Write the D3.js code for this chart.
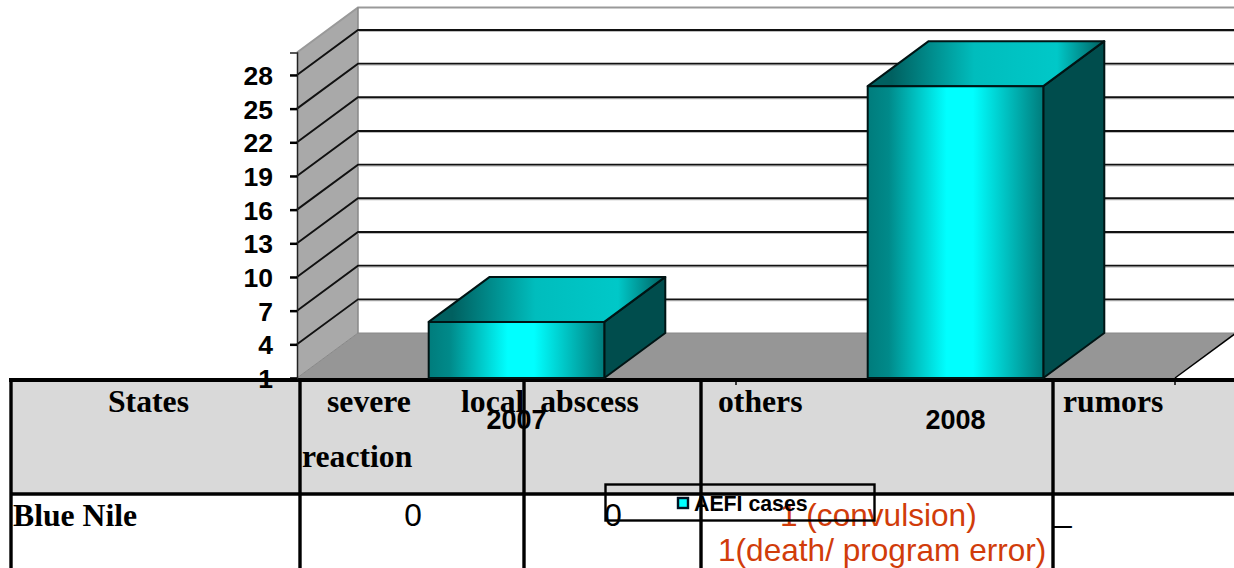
<!DOCTYPE html>
<html>
<head>
<meta charset="utf-8">
<script src="https://d3js.org/d3.v7.min.js"></script>
<style>
  body { margin: 0; background: #fff; overflow: hidden; }
  svg { display: block; }
  .serif { font-family: "Liberation Serif"; font-weight: bold; font-size: 31.7px; fill: #000; }
  .sans { font-family: "Liberation Sans"; font-size: 31.6px; }
  .bold { font-family: "Liberation Sans"; font-weight: bold; }
</style>
</head>
<body>
<svg id="chart" width="1234" height="568"></svg>
<script>
// chart data
var years = ["2007", "2008"];
var cases = [6, 27];
var yTicks = [1, 4, 7, 10, 13, 16, 19, 22, 25, 28];
var seriesName = "AEFI cases";

// the table that sits behind the chart
var headerCells = ["States", "severe", "local  abscess", "others", "rumors"];
var headerCells2 = ["reaction"];
var rowName = "Blue Nile";
var rowValues = ["0", "0"];
var rowNotes = ["1 (convulsion)", "1(death/ program error)"];
var rowDash = "_";

var width = 1234, height = 568;
var svg = d3.select("#chart");

// plot box, front edge. back wall is shifted by dx,dy
var left = 297, right = 1175, bottom = 378;
var dx = 61, dy = -45;

var x = d3.scaleBand().domain(years).range([left, right]).paddingInner(0.6).paddingOuter(0.3);
var y = d3.scaleLinear().domain([1, 30]).range([bottom, 52.5]);

// gradients
var defs = svg.append("defs");
var g1 = defs.append("linearGradient").attr("id", "front");
g1.append("stop").attr("offset", "0%").attr("stop-color", "#007c7c");
g1.append("stop").attr("offset", "12%").attr("stop-color", "#008a8a");
g1.append("stop").attr("offset", "45%").attr("stop-color", "#00ffff");
g1.append("stop").attr("offset", "60%").attr("stop-color", "#00ffff");
g1.append("stop").attr("offset", "100%").attr("stop-color", "#007c7c");
var g2 = defs.append("linearGradient").attr("id", "top")
  .attr("x1", "0%").attr("y1", "0%").attr("x2", "100%").attr("y2", "0%");
g2.append("stop").attr("offset", "10%").attr("stop-color", "#006060");
g2.append("stop").attr("offset", "45%").attr("stop-color", "#00bdbd");
g2.append("stop").attr("offset", "80%").attr("stop-color", "#00c8c8");
g2.append("stop").attr("offset", "100%").attr("stop-color", "#005f5f");

// table ------------------------------------------------------------
var colX = [11, 300, 524, 701, 1053];
var rowTop = 380, rowMid = 494;

var table = svg.append("g");
table.append("rect").attr("x", colX[0]).attr("y", rowTop).attr("width", width - colX[0]).attr("height", rowMid - rowTop).attr("fill", "#d9d9d9");
table.append("line").attr("x1", colX[0] - 2).attr("x2", width).attr("y1", rowTop).attr("y2", rowTop).attr("stroke", "#000").attr("stroke-width", 4);
table.append("line").attr("x1", colX[0]).attr("x2", width).attr("y1", rowMid).attr("y2", rowMid).attr("stroke", "#000").attr("stroke-width", 3.4);
table.selectAll("line.col").data(colX).join("line").attr("class", "col")
  .attr("x1", d => d).attr("x2", d => d).attr("y1", rowTop).attr("y2", height)
  .attr("stroke", "#000").attr("stroke-width", 3.4);

var headX = [108, 327, 461, 718, 1063];
table.selectAll("text.head").data(headerCells).join("text").attr("class", "head serif")
  .attr("x", (d, i) => headX[i]).attr("y", 412).style("white-space", "pre").text(d => d);
table.append("text").attr("class", "serif").attr("x", 302).attr("y", 467).text(headerCells2[0]);
table.append("text").attr("class", "serif").attr("x", 13).attr("y", 526).text(rowName);

var valX = [413, 613];
table.selectAll("text.val").data(rowValues).join("text").attr("class", "val sans")
  .attr("x", (d, i) => valX[i]).attr("y", 526).attr("text-anchor", "middle").attr("fill", "#000").text(d => d);
var noteX = [780, 718], noteY = [526, 561];
table.selectAll("text.note").data(rowNotes).join("text").attr("class", "note sans")
  .attr("x", (d, i) => noteX[i]).attr("y", (d, i) => noteY[i]).attr("fill", "#d13c0a").text(d => d);
table.append("text").attr("class", "sans").attr("x", 1054).attr("y", 522).attr("fill", "#000").text(rowDash);

// walls and floor ---------------------------------------------------
var wallPoly = [[left, bottom], [left, y(30)], [left + dx, y(30) + dy], [left + dx, bottom + dy]];
var floorPoly = [[left, bottom], [right, bottom], [right + dx, bottom + dy], [left + dx, bottom + dy]];
var line = d3.line();

svg.append("path").attr("d", line(wallPoly) + "Z").attr("fill", "#a9a9a9");
svg.append("path").attr("d", line(floorPoly) + "Z").attr("fill", "#969696");

// back wall border, greyish
svg.append("path")
  .attr("d", line([[left, y(30)], [left + dx, y(30) + dy], [right + dx, y(30) + dy]]))
  .attr("fill", "none").attr("stroke", "#999").attr("stroke-width", 2);
svg.append("line").attr("x1", left + dx).attr("x2", left + dx).attr("y1", y(30) + dy).attr("y2", bottom + dy).attr("stroke", "#888").attr("stroke-width", 1.5);
svg.append("line").attr("x1", left).attr("y1", bottom).attr("x2", left + dx).attr("y2", bottom + dy).attr("stroke", "#888");
svg.append("line").attr("x1", left + dx).attr("x2", right + dx).attr("y1", bottom + dy).attr("y2", bottom + dy).attr("stroke", "#888");
svg.append("line").attr("x1", right).attr("y1", bottom).attr("x2", right + dx).attr("y2", bottom + dy).attr("stroke", "#000").attr("stroke-width", 1.5);

// gridlines: shadow first and then black line
var gridTicks = yTicks.slice(1);
svg.append("g").selectAll("path").data(gridTicks).join("path")
  .attr("d", d => line([[left + dx, y(d) + dy + 1.5], [right + dx, y(d) + dy + 1.5]]))
  .attr("fill", "none").attr("stroke", "#bbb").attr("stroke-width", 1);
svg.append("g").selectAll("path").data(gridTicks).join("path")
  .attr("d", d => line([[left, y(d)], [left + dx, y(d) + dy], [right + dx, y(d) + dy]]))
  .attr("fill", "none").attr("stroke", "#111").attr("stroke-width", 1.9);

// axes
var yAxis = d3.axisLeft(y).tickValues(yTicks).tickSize(7).tickPadding(17);
var yG = svg.append("g").attr("transform", "translate(" + left + ",0)").call(yAxis);
yG.select(".domain").attr("stroke", "#222").attr("stroke-width", 1.5);
yG.selectAll(".tick line").attr("stroke", "#000").attr("stroke-width", 2.5);
yG.selectAll("text").attr("class", "bold").style("font-size", "26.5px").attr("fill", "#000").attr("dy", "0.36em");

var xAxis = d3.axisBottom(x).tickSize(0).tickPadding(0);
var xG = svg.append("g").attr("transform", "translate(0," + bottom + ")").call(xAxis);
xG.select(".domain").remove();
xG.selectAll("text").attr("class", "bold").style("font-size", "27px").attr("fill", "#000").attr("dy", "51").attr("y", 0);

// category boundary ticks under the floor
svg.append("g").selectAll("line").data(d3.range(1, years.length + 1)).join("line")
  .attr("x1", d => left + d * x.step()).attr("x2", d => left + d * x.step())
  .attr("y1", bottom).attr("y2", bottom + 7)
  .attr("stroke", "#000").attr("stroke-width", 1.5);

// bars
var bars = svg.append("g").selectAll("g").data(years).join("g");
var bw = x.bandwidth();
function outline(sel) {
  return sel.attr("stroke", "#001414").attr("stroke-width", 2).attr("stroke-linejoin", "round");
}
bars.append("path").call(outline).attr("fill", "#004d4d")
  .attr("d", (d, i) => line([[x(d) + bw, bottom], [x(d) + bw + dx, bottom + dy], [x(d) + bw + dx, y(cases[i]) + dy], [x(d) + bw, y(cases[i])]]) + "Z");
bars.append("path").call(outline).attr("fill", "url(#top)")
  .attr("d", (d, i) => line([[x(d), y(cases[i])], [x(d) + dx, y(cases[i]) + dy], [x(d) + bw + dx, y(cases[i]) + dy], [x(d) + bw, y(cases[i])]]) + "Z");
bars.append("rect").call(outline).attr("fill", "url(#front)")
  .attr("x", d => x(d)).attr("width", bw)
  .attr("y", (d, i) => y(cases[i])).attr("height", (d, i) => bottom - y(cases[i]));

// legend
var legend = svg.append("g");
legend.append("rect").attr("x", 605.5).attr("y", 484.5).attr("width", 269).attr("height", 36)
  .attr("fill", "none").attr("stroke", "#000").attr("stroke-width", 2.4);
legend.append("rect").attr("x", 678).attr("y", 498).attr("width", 10).attr("height", 10)
  .attr("fill", "#00ffff").attr("stroke", "#012").attr("stroke-width", 2.4);
legend.append("text").attr("class", "bold").attr("x", 694).attr("y", 511)
  .style("font-size", "21.3px").attr("fill", "#000").text(seriesName);
</script>
</body>
</html>
